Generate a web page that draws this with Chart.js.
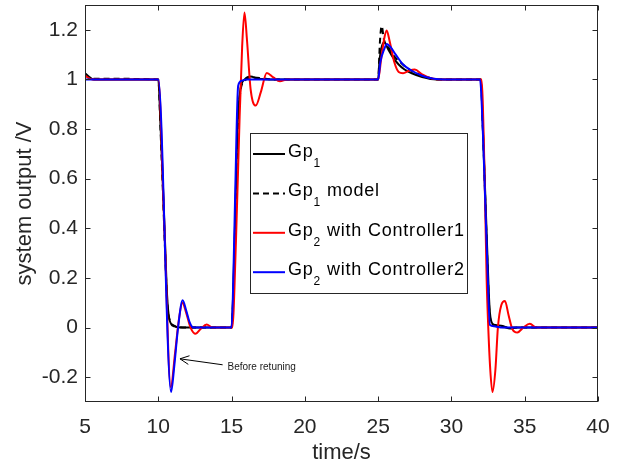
<!DOCTYPE html>
<html>
<head>
<meta charset="utf-8">
<script src="https://cdn.jsdelivr.net/npm/chart.js@4.4.1/dist/chart.umd.min.js"></script>
<style>
  html, body { margin: 0; padding: 0; background: #fff; }
</style>
</head>
<body>
<canvas id="chart" width="619" height="470"></canvas>
<script>
// time axis (s) and output (V), one pair of arrays per curve
const tGp1 = [5, 5.3, 5.6, 10, 10.15, 10.3, 10.45, 10.6, 10.75, 11, 11.5, 13, 15, 15.1, 15.25, 15.4, 15.6, 15.9, 16.3, 16.8, 18, 25, 25.1, 25.4, 25.7, 26, 26.4, 26.8, 27.3, 28, 29, 32, 32.15, 32.3, 32.45, 32.6, 32.75, 33, 33.5, 34, 34.5, 40]
const yGp1 = [1.025, 1.01, 1.0, 1.0, 0.82, 0.6, 0.36, 0.13, 0.035, 0.01, 0.0, 0.0, 0.0, 0.12, 0.45, 0.8, 0.96, 1.0, 1.012, 1.003, 1.0, 1.0, 1.08, 1.15, 1.12, 1.09, 1.06, 1.04, 1.025, 1.01, 1.0, 1.0, 0.8, 0.55, 0.3, 0.08, 0.02, 0.01, 0.006, -0.004, 0.0, 0.0]

const tModel = [5, 5.4, 10, 10.15, 10.3, 10.45, 10.6, 10.8, 11.1, 12, 15, 15.1, 15.25, 15.4, 15.6, 15.9, 16.4, 18, 25, 25.12, 25.24, 25.4, 25.7, 26, 26.5, 27, 27.6, 28.3, 29.2, 32, 32.15, 32.3, 32.45, 32.6, 32.8, 33.2, 34, 40]
const yModel = [1.02, 1.003, 1.0, 0.8, 0.57, 0.33, 0.11, 0.025, 0.005, 0.0, 0.0, 0.1, 0.42, 0.78, 0.95, 0.995, 1.008, 1.0, 1.0, 1.15, 1.215, 1.16, 1.13, 1.1, 1.07, 1.045, 1.025, 1.01, 1.0, 1.0, 0.79, 0.53, 0.27, 0.06, 0.012, 0.004, 0.0, 0.0]

const tCtrl1 = [5, 5.5, 10, 10.4, 10.85, 11.15, 11.4, 11.65, 11.9, 12.2, 12.55, 12.9, 13.3, 13.7, 15.05, 15.3, 15.55, 15.72, 15.88, 16.05, 16.3, 16.65, 17.0, 17.4, 17.85, 18.3, 18.8, 25, 25.2, 25.4, 25.58, 25.8, 26.1, 26.4, 26.7, 27.1, 27.5, 28, 28.6, 29.5, 32.05, 32.25, 32.4, 32.5, 32.65, 32.8, 33.0, 33.17, 33.4, 33.65, 33.9, 34.15, 34.5, 34.9, 35.35, 35.8, 40]
const yCtrl1 = [1.015, 1.0, 1.0, 0.43, -0.24, -0.1, 0.03, 0.1, 0.06, 0.0, -0.025, -0.005, 0.012, 0.0, 0.0, 0.35, 0.85, 1.13, 1.27, 1.16, 0.96, 0.895, 0.95, 1.026, 1.008, 0.993, 1.0, 1.0, 1.08, 1.16, 1.197, 1.15, 1.07, 1.03, 1.025, 1.035, 1.04, 1.02, 1.005, 1.0, 1.0, 0.65, 0.2, 0.02, -0.17, -0.26, -0.17, 0.0, 0.09, 0.107, 0.05, -0.005, -0.02, 0.0, 0.015, 0.0, 0.0]

const tCtrl2 = [5, 10, 10.87, 11.1, 11.35, 11.66, 11.9, 12.15, 12.4, 15, 15.1, 15.25, 15.45, 15.7, 16.0, 18, 25, 25.15, 25.4, 25.6, 25.85, 26.2, 26.7, 27.3, 28, 28.8, 29.5, 31.95, 32.15, 32.3, 32.45, 32.63, 32.9, 33.5, 40]
const yCtrl2 = [1.0, 1.0, -0.26, -0.15, 0.0, 0.11, 0.07, 0.02, 0.0, 0.0, 0.15, 0.55, 0.975, 0.995, 1.0, 1.0, 1.0, 1.07, 1.12, 1.143, 1.13, 1.1, 1.06, 1.035, 1.015, 1.003, 1.0, 1.0, 0.78, 0.52, 0.25, 0.01, 0.005, 0.0, 0.0]

const xTicks = [5, 10, 15, 20, 25, 30, 35, 40]
const yTicks = [-0.2, 0, 0.2, 0.4, 0.6, 0.8, 1, 1.2]

// annotation, in data units
const noteText = 'Before retuning'
const noteAt = [14.72, -0.158]
const arrowFrom = [14.39, -0.15]
const arrowTo = [11.48, -0.126]

const axisColor = '#262626'
const family = '"Liberation Sans", Arial, Helvetica, sans-serif'

function pts(ts, ys) {
  return ts.map((t, i) => ({ x: t, y: ys[i] }))
}

const series = [
  { name: 'Gp', sub: '1', rest: '', data: pts(tGp1, yGp1), color: '#000000', dash: [], order: 4 },
  { name: 'Gp', sub: '1', rest: ' model', data: pts(tModel, yModel), color: '#000000', dash: [6, 4], order: 3 },
  { name: 'Gp', sub: '2', rest: ' with Controller1', data: pts(tCtrl1, yCtrl1), color: '#ff0000', dash: [], order: 2 },
  { name: 'Gp', sub: '2', rest: ' with Controller2', data: pts(tCtrl2, yCtrl2), color: '#0000ff', dash: [], order: 1 }
]

const frame = {
  id: 'frame',
  afterDraw(chart) {
    const ctx = chart.ctx
    const a = chart.chartArea
    const xs = chart.scales.x
    const ys = chart.scales.y
    const L = Math.round(a.left) + 0.5, R = Math.round(a.right) - 0.5
    const T = Math.round(a.top) + 0.5, B = Math.round(a.bottom) - 0.5
    ctx.save()
    ctx.strokeStyle = axisColor
    ctx.lineWidth = 1
    ctx.setLineDash([])
    ctx.strokeRect(L, T, R - L, B - T)
    ctx.beginPath()
    xTicks.forEach(v => {
      const px = Math.round(xs.getPixelForValue(v)) + 0.5
      ctx.moveTo(px, B); ctx.lineTo(px, B - 5)
      ctx.moveTo(px, T); ctx.lineTo(px, T + 5)
    })
    yTicks.forEach(v => {
      const py = Math.round(ys.getPixelForValue(v)) + 0.5
      ctx.moveTo(L, py); ctx.lineTo(L + 5, py)
      ctx.moveTo(R, py); ctx.lineTo(R - 5, py)
    })
    ctx.stroke()

    // arrow + note
    const x0 = xs.getPixelForValue(arrowFrom[0]), y0 = ys.getPixelForValue(arrowFrom[1])
    const x1 = xs.getPixelForValue(arrowTo[0]), y1 = ys.getPixelForValue(arrowTo[1])
    const ang = Math.atan2(y0 - y1, x0 - x1)
    ctx.strokeStyle = '#000'
    ctx.beginPath()
    ctx.moveTo(x0, y0); ctx.lineTo(x1, y1)
    ctx.moveTo(x1 + 10 * Math.cos(ang + 0.45), y1 + 10 * Math.sin(ang + 0.45))
    ctx.lineTo(x1, y1)
    ctx.lineTo(x1 + 10 * Math.cos(ang - 0.45), y1 + 10 * Math.sin(ang - 0.45))
    ctx.stroke()
    ctx.fillStyle = '#1a1a1a'
    ctx.font = '10px ' + family
    ctx.textBaseline = 'middle'
    ctx.textAlign = 'left'
    ctx.fillText(noteText, xs.getPixelForValue(noteAt[0]), ys.getPixelForValue(noteAt[1]))

    // legend box
    const bx = 250.5, by = 133.5, bw = 217, bh = 160
    ctx.fillStyle = '#fff'
    ctx.fillRect(bx, by, bw, bh)
    ctx.strokeStyle = axisColor
    ctx.strokeRect(bx, by, bw, bh)
    series.forEach((s, i) => {
      const y = 154 + i * 39.4
      ctx.strokeStyle = s.color
      ctx.lineWidth = 2
      ctx.setLineDash(s.dash)
      ctx.beginPath()
      ctx.moveTo(253, y); ctx.lineTo(285, y)
      ctx.stroke()
      ctx.setLineDash([])
      ctx.fillStyle = '#000'
      ctx.textBaseline = 'alphabetic'
      ctx.letterSpacing = '0.8px'
      ctx.font = '18px ' + family
      let x = 288
      ctx.fillText(s.name, x, y + 3)
      x += ctx.measureText(s.name).width
      ctx.font = '12px ' + family
      ctx.fillText(s.sub, x, y + 13)
      x += ctx.measureText(s.sub).width
      ctx.font = '18px ' + family
      ctx.fillText(s.rest, x, y + 3)
      ctx.letterSpacing = '0px'
    })
    ctx.restore()
  }
}

const ctx = document.getElementById('chart').getContext('2d')
new Chart(ctx, {
  type: 'line',
  data: {
    datasets: series.map(s => ({
      label: s.name + s.sub + s.rest,
      data: s.data,
      borderColor: s.color,
      borderDash: s.dash,
      order: s.order
    }))
  },
  options: {
    responsive: false,
    animation: false,
    layout: { padding: { top: 5, right: 21, left: 0, bottom: 0 } },
    elements: {
      point: { radius: 0 },
      line: { borderWidth: 2, cubicInterpolationMode: 'monotone', fill: false }
    },
    plugins: { legend: { display: false }, tooltip: { enabled: false } },
    scales: {
      x: {
        type: 'linear',
        min: 5,
        max: 40,
        afterBuildTicks: s => { s.ticks = xTicks.map(v => ({ value: v })) },
        afterFit: s => { s.height = 68; s.paddingLeft = 0; s.paddingRight = 0 },
        grid: { display: false, drawTicks: false },
        border: { display: false },
        ticks: { padding: 13, maxRotation: 0, color: axisColor, font: { size: 21, family: family } },
        title: { display: true, text: 'time/s', color: axisColor, font: { size: 22, family: family }, padding: { top: 4, bottom: 4 } }
      },
      y: {
        type: 'linear',
        min: -0.3,
        max: 1.3,
        afterBuildTicks: s => { s.ticks = yTicks.map(v => ({ value: v })) },
        afterFit: s => { s.width = 85; s.paddingTop = 0; s.paddingBottom = 0 },
        grid: { display: false, drawTicks: false },
        border: { display: false },
        ticks: { padding: 7, color: axisColor, font: { size: 21, family: family }, callback: v => String(+v.toFixed(1)) },
        title: { display: true, text: 'system output /V', color: axisColor, font: { size: 22, family: family }, padding: { top: 12, bottom: 0 } }
      }
    }
  },
  plugins: [frame]
})
</script>
</body>
</html>
